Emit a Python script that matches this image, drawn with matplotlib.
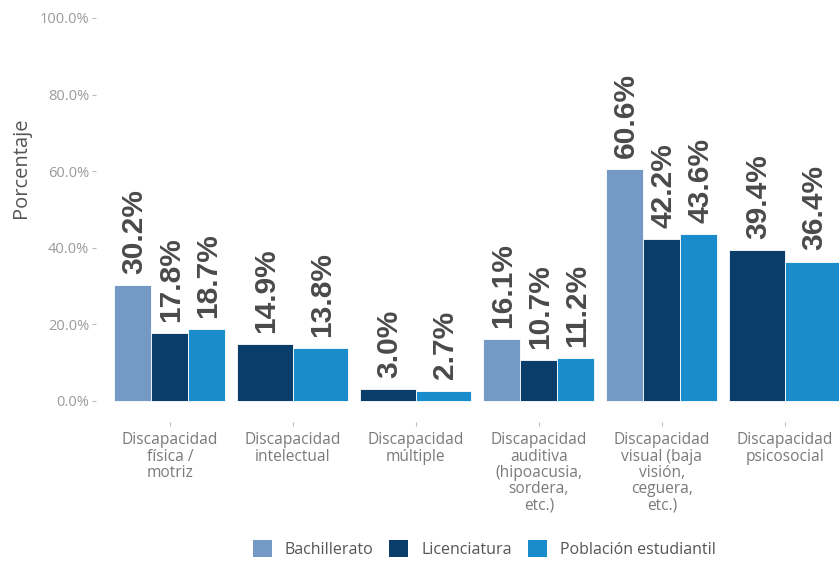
import numpy as np
import matplotlib
matplotlib.use("Agg")
import matplotlib.pyplot as plt
from matplotlib.patches import Patch

categories = [
    "Discapacidad\nfísica /\nmotriz",
    "Discapacidad\nintelectual",
    "Discapacidad\nmúltiple",
    "Discapacidad\nauditiva\n(hipoacusia,\nsordera,\netc.)",
    "Discapacidad\nvisual (baja\nvisión,\nceguera,\netc.)",
    "Discapacidad\npsicosocial",
]
series = ["Bachillerato", "Licenciatura", "Población estudiantil"]
bachillerato = [30.2, None, None, 16.1, 60.6, None]
licenciatura = [17.8, 14.9, 3.0, 10.7, 42.2, 39.4]
poblacion = [18.7, 13.8, 2.7, 11.2, 43.6, 36.4]
values = [bachillerato, licenciatura, poblacion]
colors = ["#7399C4", "#0B3D6B", "#1A8CCB"]
yticks = [0, 20, 40, 60, 80, 100]

W, H = 839, 563
fig = plt.figure(figsize=(W / 100, H / 100), dpi=100)

# panel geometry (pixels): zero line at y=401, 3.83 px per percent
left_px, bottom_px = 96, 422
ymin, ymax = -5.5, 126
px_per = 3.83
top_px = 401 - ymax * px_per
xmin, xmax = -0.6, len(categories) - 0.4
px_per_cat = 123
right_px = left_px + (xmax - xmin) * px_per_cat
ax = fig.add_axes([left_px / W, 1 - bottom_px / H,
                   (right_px - left_px) / W, (bottom_px - top_px) / H])

label_font = ["Liberation Sans", "DejaVu Sans"]
tick_font = ["Open Sans", "DejaVu Sans"]

total_width = 0.9
for i in range(len(categories)):
    present = [k for k in range(len(series)) if values[k][i] is not None]
    n = len(present)
    w = total_width / n
    for j, k in enumerate(present):
        x = i - total_width / 2 + w * (j + 0.5)
        v = values[k][i]
        ax.bar(x, v, width=w, color=colors[k], edgecolor="white", linewidth=0.6)
        ax.annotate(f"{v:.1f}%", (x, v), xytext=(1, 8), textcoords="offset points",
                    rotation=90, ha="center", va="bottom", fontsize=21.5,
                    fontweight="bold", color="#4a4a4a", family=label_font)

ax.set_xlim(xmin, xmax)
ax.set_ylim(ymin, ymax)
ax.set_xticks(range(len(categories)))
ax.set_xticklabels(categories, fontsize=11.2, color="#7a7a7a", family=tick_font,
                   linespacing=1.02)
ax.set_yticks(yticks)
ax.set_yticklabels([f"{t:.1f}%" for t in yticks], fontsize=10.5, color="#9a9a9a",
                   family=tick_font)
ax.tick_params(axis="y", length=3, width=0.8, color="#bbbbbb", pad=2)
ax.tick_params(axis="x", length=3, width=0.8, color="#bbbbbb", pad=4.5)
for s in ax.spines.values():
    s.set_visible(False)

fig.text(21 / W, 1 - 168 / H, "Porcentaje", rotation=90, ha="center", va="center",
         fontsize=14.5, color="#555555", family=tick_font)

handles = [Patch(facecolor=c, edgecolor="none") for c in colors]
fig.legend(handles, series, loc="center", bbox_to_anchor=(484 / W, 1 - 549 / H),
           ncol=3, frameon=False, handlelength=1.2, handleheight=1.2,
           handletextpad=0.8, columnspacing=1.0, prop={"family": tick_font, "size": 11.5},
           labelcolor="#555555")

fig.savefig("out.png", dpi=100)
